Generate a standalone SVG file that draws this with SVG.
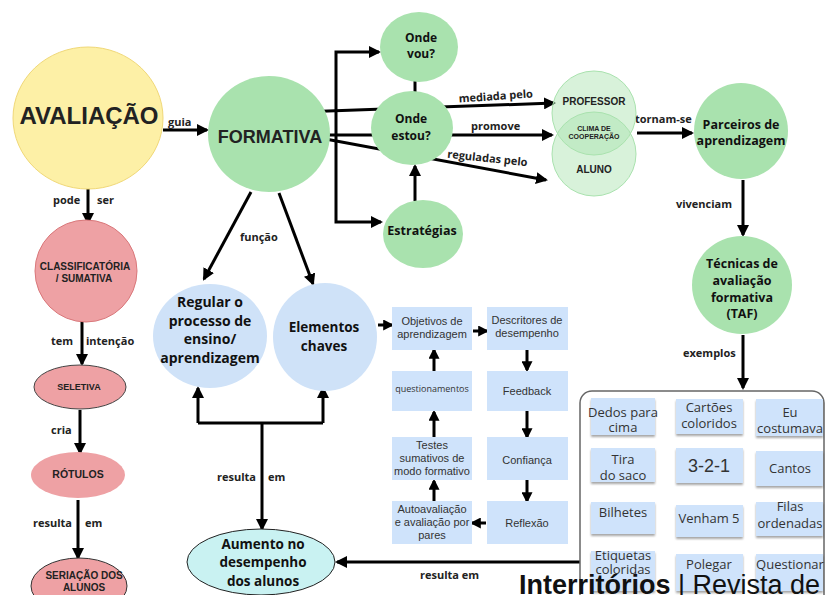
<svg xmlns="http://www.w3.org/2000/svg" width="826" height="595" viewBox="0 0 826 595">
<defs>
<marker id="ah" viewBox="0 0 12 12" markerWidth="12" markerHeight="12" refX="10" refY="6" orient="auto" markerUnits="userSpaceOnUse"><path d="M0,0 L12,6 L0,12 z" fill="#000"/></marker>
<marker id="as" viewBox="0 0 10 10" markerWidth="11" markerHeight="11" refX="8" refY="5" orient="auto" markerUnits="userSpaceOnUse"><path d="M0,0 L10,5 L0,10 z" fill="#000"/></marker>
<filter id="sh" x="-10%" y="-10%" width="120%" height="140%"><feDropShadow dx="0" dy="2" stdDeviation="1.2" flood-color="#000" flood-opacity="0.35"/></filter>
</defs>
<style>
.c{stroke:#000;stroke-width:3;fill:none;marker-end:url(#ah)}
.cs{stroke:#000;stroke-width:3;fill:none;marker-end:url(#as)}
.ln{stroke:#000;stroke-width:3;fill:none}
.lb{font-family:"Open Sans","Noto Sans",sans-serif;font-weight:700;font-size:11px;fill:#222}
.g{fill:#a9e2ae}
.p{fill:#eea1a4}
.b{fill:#cfe2f8}
.nt{font-family:"Open Sans","Noto Sans",sans-serif;font-weight:700;fill:#111;text-anchor:middle}
.at{font-family:"Liberation Sans",Arial,sans-serif;font-weight:700;fill:#222;text-anchor:middle}
.bx{fill:#cfe3fb}
.bt{font-family:"Liberation Sans",Arial,sans-serif;font-size:11px;fill:#333;text-anchor:middle}
.sb{fill:#cfe3fb;filter:url(#sh)}
.st{font-family:"Open Sans","Noto Sans",sans-serif;font-size:13px;fill:#333;text-anchor:middle}
</style>
<rect width="826" height="595" fill="#fff"/>

<g id="connectors">
<path class="c" d="M163,130 H207"/>
<path class="c" d="M88,188 V223"/>
<path class="c" d="M82,322 V364"/>
<path class="c" d="M80,410 V453"/>
<path class="c" d="M78,500 V558"/>
<path class="c" d="M251,192 L204,279"/>
<path class="c" d="M279,193 L313,284"/>
<path class="c" d="M336,134 V52 H379"/>
<path class="c" d="M336,134 V222 H381"/>
<path class="c" d="M300,112 L554,103"/>
<path class="c" d="M300,135 L552,135"/>
<path class="c" d="M320,138 L546,180"/>
<path class="ln" d="M415,70 V100"/>
<path class="c" d="M415,201 V166"/>
<path class="c" d="M637,133 H692"/>
<path class="c" d="M743,180 V235"/>
<path class="c" d="M743,335 V388"/>
<path class="cs" d="M378,325 H392"/>
<path class="cs" d="M473,331 H487"/>
<path class="cs" d="M527,350 V370"/>
<path class="cs" d="M527,411 V437"/>
<path class="cs" d="M527,480 V501"/>
<path class="cs" d="M486,523 H472"/>
<path class="cs" d="M434,501 V481"/>
<path class="cs" d="M434,437 V412"/>
<path class="cs" d="M434,371 V350"/>
<path class="ln" d="M198,423 H323"/>
<path class="c" d="M198,423 V388"/>
<path class="c" d="M323,423 V388"/>
<path class="c" d="M262,423 V529"/>
<path class="c" d="M580,562 H337"/>
<text class="lb" x="168" y="126">guia</text>
<text class="lb" x="53" y="204">pode</text>
<text class="lb" x="97" y="204">ser</text>
<text class="lb" x="240" y="241">função</text>
<text class="lb" x="51" y="345">tem</text>
<text class="lb" x="86" y="345">intenção</text>
<text class="lb" x="51" y="434">cria</text>
<text class="lb" x="33" y="527">resulta</text>
<text class="lb" x="85" y="527">em</text>
<text class="lb" x="217" y="481">resulta</text>
<text class="lb" x="268" y="481">em</text>
<text class="lb" x="420" y="579">resulta em</text>
<text class="lb" x="496" y="100" text-anchor="middle" transform="rotate(-4 496 100)">mediada pelo</text>
<text class="lb" x="471" y="130">promove</text>
<text class="lb" x="487" y="162" text-anchor="middle" transform="rotate(6 487 162)">reguladas pelo</text>
<text class="lb" x="635" y="123">tornam-se</text>
<text class="lb" x="676" y="208">vivenciam</text>
<text class="lb" x="683" y="357">exemplos</text>
</g>

<g id="avaliacao">
<ellipse cx="88" cy="118" rx="75" ry="71" fill="#fdf0a6" stroke="#f0d878" stroke-width="1"/>
<text class="at" x="89" y="124" font-size="24" fill="#111">AVALIAÇÃO</text>
</g>
<g id="formativa">
<ellipse class="g" cx="269" cy="134" rx="61" ry="58"/>
<text class="at" x="270" y="143" font-size="18" fill="#111">FORMATIVA</text>
</g>
<g id="classificatoria">
<circle cx="86" cy="271" r="51" fill="#eea1a4" stroke="#d9777a" stroke-width="1"/>
<text class="at" x="85" y="270" font-size="10">CLASSIFICATÓRIA</text>
<text class="at" x="84" y="282" font-size="10">/ SUMATIVA</text>
</g>
<g id="seletiva">
<ellipse cx="80" cy="387" rx="46" ry="22" fill="#eea1a4" stroke="#444" stroke-width="1"/>
<text class="at" x="79" y="390" font-size="9">SELETIVA</text>
</g>
<g id="rotulos">
<ellipse class="p" cx="78" cy="475" rx="47" ry="23"/>
<text class="at" x="78" y="478" font-size="10.5">RÓTULOS</text>
</g>
<g id="seriacao">
<ellipse cx="79" cy="586" rx="48" ry="28" fill="#eea1a4" stroke="#333" stroke-width="1"/>
<text class="at" x="84" y="579" font-size="10">SERIAÇÃO DOS</text>
<text class="at" x="84" y="591" font-size="10">ALUNOS</text>
</g>
<g id="onde-vou">
<ellipse class="g" cx="419" cy="47" rx="39" ry="35"/>
<text class="nt" x="421" y="42" font-size="12">Onde</text>
<text class="nt" x="421" y="58" font-size="12">vou?</text>
</g>
<g id="onde-estou">
<ellipse class="g" cx="412" cy="128" rx="41" ry="37"/>
<text class="nt" x="411" y="123" font-size="12">Onde</text>
<text class="nt" x="411" y="140" font-size="12">estou?</text>
</g>
<g id="estrategias">
<ellipse class="g" cx="423" cy="234" rx="40" ry="34"/>
<text class="nt" x="422" y="235" font-size="12.5">Estratégias</text>
</g>
<g id="professor-aluno">
<circle cx="594" cy="113" r="42" fill="#a9e2ae" fill-opacity="0.45" stroke="#a9e2ae" stroke-width="1"/>
<circle cx="594" cy="154" r="42" fill="#a9e2ae" fill-opacity="0.45" stroke="#a9e2ae" stroke-width="1"/>
<text class="at" x="594" y="105" font-size="10" fill="#333">PROFESSOR</text>
<text class="at" x="594" y="131" font-size="7" fill="#333">CLIMA DE</text>
<text class="at" x="594" y="139" font-size="7" fill="#333">COOPERAÇÃO</text>
<text class="at" x="594" y="173" font-size="10" fill="#333">ALUNO</text>
</g>
<g id="parceiros">
<ellipse class="g" cx="741" cy="131" rx="47" ry="48"/>
<text class="nt" x="741" y="129" font-size="12.5">Parceiros de</text>
<text class="nt" x="741" y="145" font-size="12.5">aprendizagem</text>
</g>
<g id="tecnicas">
<ellipse class="g" cx="742" cy="285" rx="50" ry="49"/>
<text class="nt" x="742" y="268" font-size="12.5">Técnicas de</text>
<text class="nt" x="742" y="285" font-size="12.5">avaliação</text>
<text class="nt" x="742" y="302" font-size="12.5">formativa</text>
<text class="nt" x="742" y="318" font-size="12.5">(TAF)</text>
</g>
<g id="regular">
<ellipse class="b" cx="210" cy="336" rx="57" ry="52"/>
<text class="nt" x="210" y="307" font-size="14">Regular o</text>
<text class="nt" x="210" y="326" font-size="14">processo de</text>
<text class="nt" x="210" y="344" font-size="14">ensino/</text>
<text class="nt" x="210" y="363" font-size="14">aprendizagem</text>
</g>
<g id="elementos">
<ellipse class="b" cx="325" cy="337" rx="52" ry="54"/>
<text class="nt" x="324" y="332" font-size="13.5">Elementos</text>
<text class="nt" x="324" y="351" font-size="13.5">chaves</text>
</g>
<g id="aumento">
<ellipse cx="261" cy="562" rx="74" ry="33" fill="#c9f2f2" stroke="#222" stroke-width="1"/>
<text class="nt" x="263" y="549" font-size="13.5">Aumento no</text>
<text class="nt" x="263" y="567" font-size="13.5">desempenho</text>
<text class="nt" x="263" y="586" font-size="13.5">dos alunos</text>
</g>

<g id="objetivos"><rect class="bx" x="392" y="307" width="80" height="43"/>
<text class="bt" x="432" y="325" font-size="10.5">Objetivos de</text><text class="bt" x="432" y="338" font-size="10.5">aprendizagem</text></g>
<g id="descritores"><rect class="bx" x="487" y="307" width="81" height="43"/>
<text class="bt" x="527" y="324" font-size="12">Descritores de</text><text class="bt" x="527" y="337" font-size="12">desempenho</text></g>
<g id="questionamentos"><rect class="bx" x="392" y="371" width="80" height="40"/>
<text class="bt" x="432" y="392" style="font-family:'Open Sans','Noto Sans',sans-serif;font-size:9px">questionamentos</text></g>
<g id="feedback"><rect class="bx" x="487" y="371" width="81" height="40"/>
<text class="bt" x="527" y="395">Feedback</text></g>
<g id="testes"><rect class="bx" x="392" y="437" width="80" height="43"/>
<text class="bt" x="432" y="449">Testes</text><text class="bt" x="432" y="462">sumativos de</text><text class="bt" x="432" y="475">modo formativo</text></g>
<g id="confianca"><rect class="bx" x="487" y="437" width="81" height="43"/>
<text class="bt" x="527" y="464">Confiança</text></g>
<g id="autoavaliacao"><rect class="bx" x="392" y="501" width="80" height="43"/>
<text class="bt" x="432" y="513">Autoavaliação</text><text class="bt" x="432" y="526">e avaliação por</text><text class="bt" x="432" y="539">pares</text></g>
<g id="reflexao"><rect class="bx" x="487" y="501" width="81" height="43"/>
<text class="bt" x="527" y="527">Reflexão</text></g>

<g id="exemplos-box">
<rect x="580" y="391" width="244" height="230" rx="12" fill="#fff" stroke="#666" stroke-width="1.5"/>
<g id="dedos"><rect class="sb" x="591" y="398" width="64" height="37"/><text class="st" x="623" y="417">Dedos para</text><text class="st" x="623" y="432">cima</text></g>
<g id="cartoes"><rect class="sb" x="676" y="399" width="67" height="35"/><text class="st" x="709" y="412">Cartões</text><text class="st" x="709" y="428">coloridos</text></g>
<g id="eu"><rect class="sb" x="756" y="399" width="67" height="37"/><text class="st" x="790" y="417">Eu</text><text class="st" x="790" y="433">costumava</text></g>
<g id="tira"><rect class="sb" x="591" y="448" width="64" height="34"/><text class="st" x="623" y="464">Tira</text><text class="st" x="623" y="480">do saco</text></g>
<g id="t321"><rect class="sb" x="676" y="448" width="67" height="35"/><text class="st" x="709" y="472" style="font-family:'Liberation Sans',Arial,sans-serif;font-size:18px">3-2-1</text></g>
<g id="cantos"><rect class="sb" x="756" y="451" width="67" height="35"/><text class="st" x="790" y="473">Cantos</text></g>
<g id="bilhetes"><rect class="sb" x="591" y="502" width="64" height="32"/><text class="st" x="623" y="517">Bilhetes</text></g>
<g id="venham"><rect class="sb" x="676" y="505" width="67" height="32"/><text class="st" x="709" y="523">Venham 5</text></g>
<g id="filas"><rect class="sb" x="756" y="502" width="67" height="34"/><text class="st" x="790" y="511">Filas</text><text class="st" x="790" y="528">ordenadas</text></g>
<g id="etiquetas"><rect class="sb" x="591" y="551" width="64" height="40"/><text class="st" x="623" y="560">Etiquetas</text><text class="st" x="623" y="574">coloridas</text></g>
<g id="polegar"><rect class="sb" x="676" y="554" width="67" height="37"/><text class="st" x="709" y="569">Polegar</text></g>
<g id="questionar"><rect class="sb" x="756" y="554" width="67" height="37"/><text class="st" x="790" y="569">Questionar</text></g>
</g>

<text x="519" y="594" font-family="'Liberation Sans',Arial,sans-serif" font-size="27" fill="#111"><tspan font-weight="700">Interritórios</tspan> | Revista de</text>
</svg>
